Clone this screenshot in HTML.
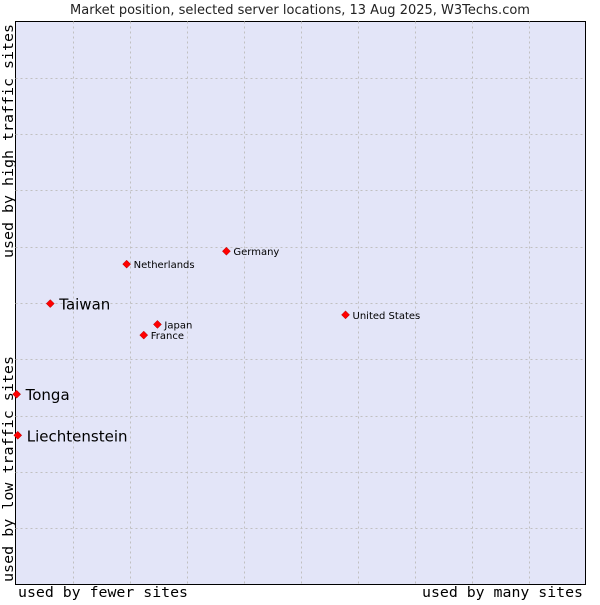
<!DOCTYPE html>
<html><head><meta charset="utf-8"><style>
body{margin:0;background:#fff;width:600px;height:600px;overflow:hidden}
svg text{font-family:"DejaVu Sans","Liberation Sans",sans-serif}
.m{font-family:"DejaVu Sans Mono",monospace}
</style></head><body>
<svg id="chart" width="600" height="600">
<text x="300" y="14" text-anchor="middle" font-size="13" fill="#222">Market position, selected server locations, 13 Aug 2025, W3Techs.com</text>
<rect x="15.5" y="21.5" width="570" height="563" fill="#e3e5f8" stroke="#000"/>
<g id="grid"></g>
<g id="pts"></g>
<text class="m" x="18" y="597" font-size="14" textLength="170" lengthAdjust="spacingAndGlyphs">used by fewer sites</text>
<text class="m" x="422" y="597" font-size="14" textLength="161" lengthAdjust="spacingAndGlyphs">used by many sites</text>
<text class="m" transform="translate(13,582) rotate(-90)" font-size="14" textLength="226" lengthAdjust="spacingAndGlyphs">used by low traffic sites</text>
<text class="m" transform="translate(13,258) rotate(-90)" font-size="14" textLength="234" lengthAdjust="spacingAndGlyphs">used by high traffic sites</text>
</svg>
<script>
const names=["Taiwan","Tonga","Liechtenstein","Netherlands","Germany","Japan","France","United States"];
const xVals=[6.1,0.2,0.4,19.5,37.0,24.9,22.5,57.9];
const yVals=[49.9,33.8,26.5,56.9,59.2,46.2,44.3,47.9];
const bigLabel=[true,true,true,false,false,false,false,false];
const L=15.5,T=21.5,W=570,H=563;
const sx=v=>L+v/100*W, sy=v=>T+H-v/100*H;
const ns="http://www.w3.org/2000/svg";
const g=document.getElementById('grid');
for(let i=1;i<10;i++){
 const a=document.createElementNS(ns,'line');
 
 
 const x=Math.round(sx(i*10))+0.5;
 a.setAttribute('x1',x);a.setAttribute('x2',x);a.setAttribute('y1',T);a.setAttribute('y2',T+H);
 a.setAttribute('stroke','#c0c0c0');a.setAttribute('stroke-dasharray','2,3');g.appendChild(a);
 const b=document.createElementNS(ns,'line');
 
 
 const y=Math.round(sy(i*10))+0.5;
 b.setAttribute('x1',L);b.setAttribute('x2',L+W);b.setAttribute('y1',y);b.setAttribute('y2',y);
 b.setAttribute('stroke','#c0c0c0');b.setAttribute('stroke-dasharray','2,3');g.appendChild(b);
}
const p=document.getElementById('pts');
names.forEach((n,i)=>{
 const x=sx(xVals[i]),y=sy(yVals[i]);
 const d=document.createElementNS(ns,'path');
 
 
 d.setAttribute('d',`M${x},${y-4}L${x+4},${y}L${x},${y+4}L${x-4},${y}Z`);
 d.setAttribute('fill','#f00');d.setAttribute('stroke','#a00');d.setAttribute('stroke-width','0.5');p.appendChild(d);
 const t=document.createElementNS(ns,'text');
 
 
 t.setAttribute('x',x+(bigLabel[i]?9:7));t.setAttribute('y',y+(bigLabel[i]?6:4));
 t.setAttribute('font-size',bigLabel[i]?'15':'10');t.textContent=n;p.appendChild(t);
});
</script>
</body></html>
